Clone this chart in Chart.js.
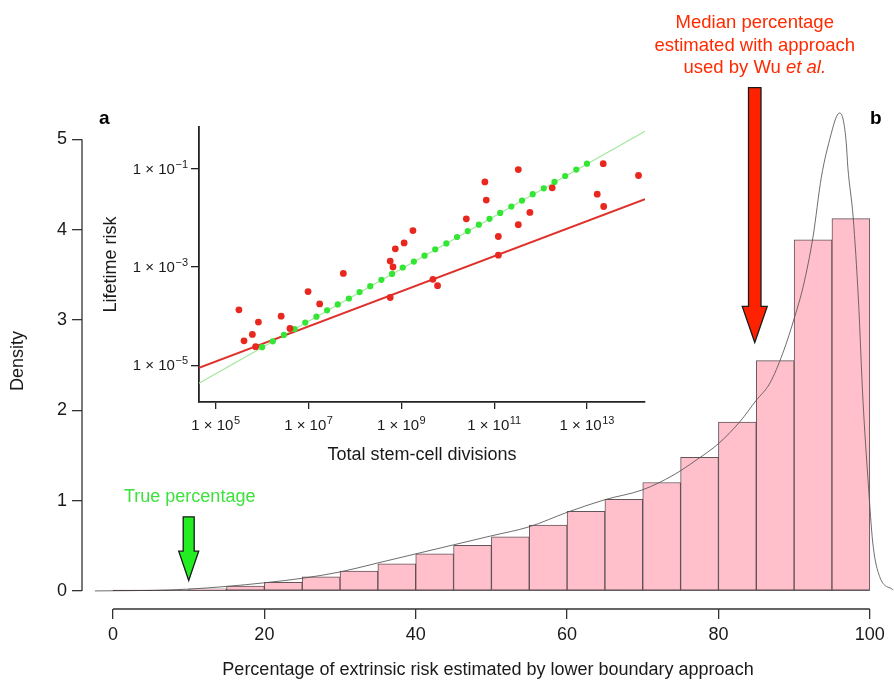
<!DOCTYPE html>
<html>
<head>
<meta charset="utf-8">
<script src="https://cdn.jsdelivr.net/npm/chart.js"></script>
<style>
  body { margin: 0; background: #fff; }
  #wrap { position: relative; width: 894px; height: 681px; }
  #main { position: absolute; left: 0; top: 0; }
  #inset { position: absolute; left: 100px; top: 100px; }
</style>
</head>
<body>
<div id="wrap">
  <canvas id="main" width="894" height="681"></canvas>
  <canvas id="inset" width="560" height="380"></canvas>
</div>
<script>
// ---- panel b : histogram of estimated extrinsic risk (%) ----
const binCenters = [2.5, 7.5, 12.5, 17.5, 22.5, 27.5, 32.5, 37.5, 42.5, 47.5,
                    52.5, 57.5, 62.5, 67.5, 72.5, 77.5, 82.5, 87.5, 92.5, 97.5];
const binDensity = [0.003, 0.008, 0.022, 0.055, 0.096, 0.155, 0.22, 0.30, 0.41, 0.505,
                    0.60, 0.73, 0.88, 1.015, 1.20, 1.48, 1.87, 2.55, 3.885, 4.12];

// kernel density curve
const curveX = [-2.4, 0, 5, 10, 15, 20, 25, 30, 35, 40, 45, 50, 55, 60, 65, 70, 74, 77.1, 80, 82.8,
                85, 86.8, 88.5, 90.1, 91.2, 92.5, 93.6, 94.9, 95.6, 96.0, 96.5, 96.9, 97.1, 97.8,
                98.5, 99.1, 99.8, 100.4, 101.3, 103.1];
const curveY = [0, 0.002, 0.006, 0.02, 0.05, 0.09, 0.14, 0.21, 0.31, 0.41, 0.51, 0.61, 0.71, 0.87, 1.01, 1.12, 1.28, 1.45, 1.63, 1.87,
                2.11, 2.30, 2.63, 3.04, 3.37, 3.92, 4.58, 5.06, 5.25, 5.29, 5.21, 4.95, 4.69, 4.14,
                3.22, 2.11, 1.19, 0.53, 0.16, 0.01];

const xTicks = [0, 20, 40, 60, 80, 100];
const yTicks = [0, 1, 2, 3, 4, 5];

// arrows (x in %, y in density units)
const arrowX = [10, 84.8];
const arrowTop = [0.82, 5.57];
const arrowNeck = [0.44, 3.15];
const arrowTip = [0.115, 2.75];

// ---- panel a : lifetime risk vs stem-cell divisions (log10 values) ----
const redLogDiv = [5.50, 5.61, 5.79, 5.92, 5.86, 6.41, 6.60, 6.99, 7.24, 7.75, 8.76, 8.76, 8.82, 8.87, 9.06, 9.25,
                   9.68, 9.78, 10.40, 10.80, 10.83, 11.09, 11.09, 11.52, 11.52, 11.77, 12.25, 13.22, 13.35, 13.36, 14.11];
const redLogRisk = [-3.87, -4.50, -4.37, -4.12, -4.62, -4.00, -4.25, -3.50, -3.75, -3.13, -3.62, -2.88, -3.00, -2.63, -2.51, -2.26,
                    -3.25, -3.38, -2.02, -1.27, -1.64, -2.38, -2.76, -1.02, -2.14, -1.89, -1.39, -1.52, -0.90, -1.77, -1.14];
const greenLogDiv = [6.00, 6.23, 6.47, 6.70, 6.93, 7.17, 7.40, 7.63, 7.87, 8.10, 8.33, 8.57, 8.80, 9.03, 9.27, 9.50,
                     9.73, 9.97, 10.20, 10.43, 10.67, 10.90, 11.13, 11.37, 11.60, 11.83, 12.07, 12.30, 12.53, 12.77, 13.00];
const greenLogRisk = [-4.63, -4.51, -4.38, -4.26, -4.13, -4.01, -3.88, -3.76, -3.64, -3.51, -3.39, -3.26, -3.14, -3.01, -2.89, -2.77,
                      -2.64, -2.52, -2.39, -2.27, -2.14, -2.02, -1.90, -1.77, -1.65, -1.52, -1.40, -1.27, -1.15, -1.02, -0.90];
const fitLogDiv = [4.64, 14.25];
const redFitLogRisk = [-5.05, -1.62];
const greenFitLogRisk = [-5.36, -0.24];
const insetXTicks = [5, 7, 9, 11, 13];
const insetYTicks = [-1, -3, -5];

const FONT = "'Liberation Sans', Arial, Helvetica, sans-serif";
Chart.defaults.font.family = FONT;
Chart.defaults.color = '#1a1a1a';

const toXY = (xs, ys) => xs.map((x, i) => ({x: x, y: ys[i]}));

const decor = {
  id: 'decor',
  afterDraw(chart) {
    const {ctx, chartArea, scales: {x, y}} = chart;
    ctx.save();
    // R style axis lines, only over the tick range
    ctx.strokeStyle = '#333';
    ctx.lineWidth = 1.3;
    ctx.beginPath();
    ctx.moveTo(chartArea.left, y.getPixelForValue(yTicks[0]));
    ctx.lineTo(chartArea.left, y.getPixelForValue(yTicks[yTicks.length - 1]));
    ctx.moveTo(x.getPixelForValue(xTicks[0]), chartArea.bottom);
    ctx.lineTo(x.getPixelForValue(xTicks[xTicks.length - 1]), chartArea.bottom);
    ctx.stroke();

    // bottoms of the near-empty bins show as a dark line in the original
    ctx.strokeStyle = 'rgba(60,50,55,0.8)';
    ctx.lineWidth = 1;
    ctx.beginPath();
    ctx.moveTo(x.getPixelForValue(0), y.getPixelForValue(0) - 0.5);
    ctx.lineTo(x.getPixelForValue(100), y.getPixelForValue(0) - 0.5);
    ctx.stroke();

    const fills = ['#22ee22', '#ff2200'];
    const shaft = [11, 12.5];
    const head = [20, 25];
    arrowX.forEach((v, i) => {
      const cx = x.getPixelForValue(v);
      const top = y.getPixelForValue(arrowTop[i]);
      const neck = y.getPixelForValue(arrowNeck[i]);
      const tip = y.getPixelForValue(arrowTip[i]);
      const sw = shaft[i] / 2, hw = head[i] / 2;
      ctx.beginPath();
      ctx.moveTo(cx - sw, top);
      ctx.lineTo(cx + sw, top);
      ctx.lineTo(cx + sw, neck);
      ctx.lineTo(cx + hw, neck);
      ctx.lineTo(cx, tip);
      ctx.lineTo(cx - hw, neck);
      ctx.lineTo(cx - sw, neck);
      ctx.closePath();
      ctx.fillStyle = fills[i];
      ctx.fill();
      ctx.strokeStyle = '#1a1a1a';
      ctx.lineWidth = 1.3;
      ctx.stroke();
    });

    ctx.textAlign = 'center';
    ctx.textBaseline = 'middle';
    ctx.font = '18px ' + FONT;
    ctx.fillStyle = '#3ee23e';
    ctx.fillText('True percentage', x.getPixelForValue(arrowX[0]) + 1, 497);

    const rx = x.getPixelForValue(arrowX[1]);
    ctx.fillStyle = '#ff2a00';
    ctx.font = '18.5px ' + FONT;
    ctx.fillText('Median percentage', rx, 23);
    ctx.fillText('estimated with approach', rx, 46);
    const a = 'used by Wu ', b = 'et al.';
    const wa = ctx.measureText(a).width;
    ctx.font = 'italic 18.5px ' + FONT;
    const wb = ctx.measureText(b).width;
    ctx.textAlign = 'left';
    ctx.fillText(b, rx - (wa + wb) / 2 + wa, 68);
    ctx.font = '18.5px ' + FONT;
    ctx.fillText(a, rx - (wa + wb) / 2, 68);

    // panel letters
    ctx.fillStyle = '#000';
    ctx.font = 'bold 19px ' + FONT;
    ctx.textBaseline = 'alphabetic';
    ctx.fillText('a', 99, 124);
    ctx.fillText('b', 870, 124);
    ctx.restore();
  }
};

// "1 × 10^n" tick labels with a real raised exponent
function powerLabel(ctx, n, left, baseline) {
  ctx.font = '15px ' + FONT;
  ctx.fillText('1 × 10', left, baseline);
  const w = ctx.measureText('1 × 10').width;
  ctx.font = '11px ' + FONT;
  ctx.fillText(String(n).replace('-', '\u2212'), left + w + 0.5, baseline - 6);
}
function powerWidth(ctx, n) {
  ctx.font = '15px ' + FONT;
  const w = ctx.measureText('1 × 10').width;
  ctx.font = '11px ' + FONT;
  return w + 0.5 + ctx.measureText(String(n).replace('-', '\u2212')).width;
}

const expLabels = {
  id: 'expLabels',
  afterDraw(chart) {
    const {ctx, scales: {x, y}} = chart;
    ctx.save();
    ctx.fillStyle = '#1a1a1a';
    ctx.textAlign = 'left';
    ctx.textBaseline = 'alphabetic';
    insetXTicks.forEach(v => {
      const w = powerWidth(ctx, v);
      powerLabel(ctx, v, x.getPixelForValue(v) - w / 2, x.top + 28);
    });
    insetYTicks.forEach(v => {
      const w = powerWidth(ctx, v);
      powerLabel(ctx, v, y.right - 11 - w, y.getPixelForValue(v) + 5);
    });
    ctx.restore();
  }
};

new Chart(document.getElementById('main'), {
  type: 'bar',
  data: {
    datasets: [{
      type: 'line',
      data: toXY(curveX, curveY),
      borderColor: 'rgba(85,85,85,0.85)',
      borderWidth: 1,
      pointRadius: 0,
      cubicInterpolationMode: 'monotone',
      clip: false
    }, {
      type: 'bar',
      data: toXY(binCenters, binDensity),
      backgroundColor: '#ffc0cb',
      borderColor: 'rgba(70,55,60,0.85)',
      borderWidth: 1,
      borderSkipped: false,
      barPercentage: 1,
      categoryPercentage: 1,
      grouped: false
    }]
  },
  options: {
    responsive: false,
    animation: false,
    events: [],
    layout: {padding: {top: 113, right: 0, left: 0, bottom: 0}},
    plugins: {legend: {display: false}, tooltip: {enabled: false}},
    scales: {
      x: {
        type: 'linear',
        min: -4.1,
        max: 103.2,
        offset: false,
        afterBuildTicks: (s) => { s.ticks = xTicks.map(v => ({value: v})); },
        afterFit: (s) => { s.height = 72; },
        grid: {display: true, offset: false, drawOnChartArea: false, drawTicks: true, tickLength: 10, color: '#333', lineWidth: 1.3},
        border: {display: false},
        ticks: {font: {size: 18}, padding: 5, maxRotation: 0, autoSkip: false},
        title: {display: true, text: 'Percentage of extrinsic risk estimated by lower boundary approach',
                font: {size: 18}, padding: {top: 0, bottom: 0}}
      },
      y: {
        min: -0.2,
        max: 5.29,
        afterBuildTicks: (s) => { s.ticks = yTicks.map(v => ({value: v})); },
        afterFit: (s) => { s.width = 82; },
        grid: {display: true, drawOnChartArea: false, drawTicks: true, tickLength: 10, color: '#333', lineWidth: 1.3},
        border: {display: false},
        ticks: {font: {size: 18}, padding: 5},
        title: {display: true, text: 'Density', font: {size: 18}, padding: {top: 7.5, bottom: 0}}
      }
    }
  },
  plugins: [decor]
});

new Chart(document.getElementById('inset'), {
  type: 'scatter',
  data: {
    datasets: [{
      data: toXY(redLogDiv, redLogRisk),
      pointRadius: 3.4,
      pointBorderWidth: 0,
      pointBackgroundColor: '#e8281e'
    }, {
      data: toXY(greenLogDiv, greenLogRisk),
      pointRadius: 3.1,
      pointBorderWidth: 0,
      pointBackgroundColor: '#33e633'
    }, {
      data: toXY(fitLogDiv, redFitLogRisk),
      showLine: true,
      pointRadius: 0,
      borderColor: '#e0302a',
      borderWidth: 2
    }, {
      data: toXY(fitLogDiv, greenFitLogRisk),
      showLine: true,
      pointRadius: 0,
      borderColor: '#a6e8a0',
      borderWidth: 1.2
    }]
  },
  options: {
    responsive: false,
    animation: false,
    events: [],
    layout: {padding: {top: 27, right: 15, left: 0, bottom: 0}},
    plugins: {legend: {display: false}, tooltip: {enabled: false}},
    scales: {
      x: {
        type: 'linear',
        min: fitLogDiv[0],
        max: fitLogDiv[1],
        afterBuildTicks: (s) => { s.ticks = insetXTicks.map(v => ({value: v})); },
        afterFit: (s) => { s.height = 78; },
        grid: {display: true, drawOnChartArea: false, drawTicks: true, tickLength: 7, color: '#222', lineWidth: 1.3},
        border: {display: true, color: '#222', width: 1.8},
        ticks: {display: false},
        title: {display: true, text: 'Total stem-cell divisions', font: {size: 18}, padding: {top: 0, bottom: 14}}
      },
      y: {
        min: -5.744,
        max: -0.154,
        afterBuildTicks: (s) => { s.ticks = insetYTicks.map(v => ({value: v})); },
        afterFit: (s) => { s.width = 99; },
        grid: {display: true, drawOnChartArea: false, drawTicks: true, tickLength: 8, color: '#222', lineWidth: 1.3},
        border: {display: true, color: '#222', width: 1.8},
        ticks: {display: false},
        title: {display: true, text: 'Lifetime risk', font: {size: 18}, padding: {top: 0, bottom: 0}}
      }
    }
  },
  plugins: [expLabels]
});
</script>
</body>
</html>
